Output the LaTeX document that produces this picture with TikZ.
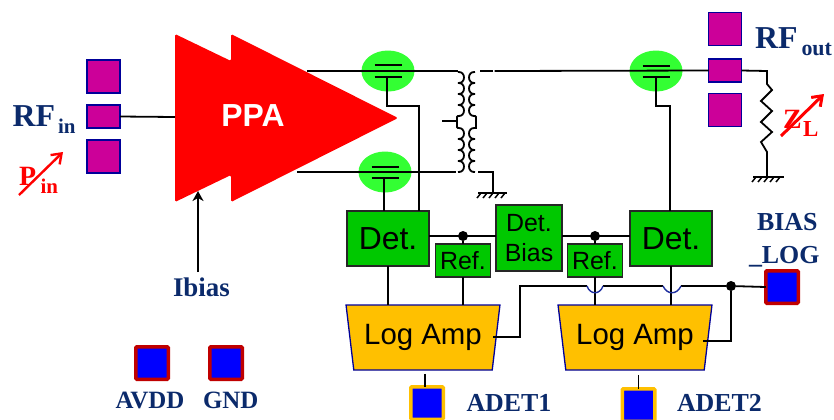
\documentclass[tikz,border=0pt]{standalone}
\usepackage{fontspec}
\setmainfont{Liberation Serif}
\setsansfont{Liberation Sans}
\usetikzlibrary{shapes.geometric,arrows.meta,calc}
\definecolor{navy}{HTML}{0B2A6B}
\definecolor{padm}{HTML}{CC0099}
\definecolor{padb}{HTML}{000099}
\definecolor{detg}{HTML}{00C800}
\definecolor{mosg}{HTML}{33FF33}
\definecolor{amber}{HTML}{FFC000}
\definecolor{dred}{HTML}{C00000}
\definecolor{hopb}{HTML}{1F2F9F}
\newcommand{\fs}[1]{\fontsize{#1}{#1}\selectfont}
\newcommand{\coilbumps}[1]{.. controls +(#1,-1) and +(#1,1) .. ++(0,11)
 .. controls +(#1,-1) and +(#1,1) .. ++(0,11)
 .. controls +(#1,-1) and +(#1,1) .. ++(0,11)
 .. controls +(#1,-1) and +(#1,1) .. ++(0,11)}
\tikzset{
  wire/.style={draw=black,line width=1.8bp,line join=miter},
  rfpad/.style={rectangle,draw=padb,fill=padm,line width=1.3bp,inner sep=0,outer sep=0},
  iopad/.style={rectangle,fill=blue,line width=3.5bp,inner sep=0,outer sep=0,rounded corners=1bp,minimum width=32.5bp,minimum height=32.5bp},
  box/.style={rectangle,draw=black!85,fill=detg,line width=1.5bp,inner sep=0,outer sep=0,align=center,font=\sffamily},
  amp/.style={trapezium,shape border rotate=180,trapezium left angle=76,trapezium right angle=76,trapezium stretches=true,draw=padb,fill=amber,line width=1.3bp,inner sep=0,outer sep=0,minimum width=154bp,minimum height=65bp,font=\sffamily\fs{29.5}},
  mos/.style={ellipse,fill=mosg,inner sep=0,outer sep=0,minimum width=53bp,minimum height=41bp},
  lbl/.style={inner sep=0,outer sep=0,anchor=base west,text=navy,font=\bfseries},
  redl/.style={inner sep=0,outer sep=0,anchor=base west,text=red,font=\bfseries},
  dot/.style={circle,fill=black,inner sep=0,outer sep=0,minimum size=10bp},
  redarrow/.style={draw=red,-{Straight Barb[length=9bp,width=13bp]}},
  gnd/.style={wire,line width=1.5bp},
}
\begin{document}
\begin{tikzpicture}[x=1bp,y=-1bp]
\useasboundingbox (0,0) rectangle (834,419);
\clip (0,0) rectangle (834,419);
% MOS ellipses
\node[mos] (m1) at (388,71) {};
\node[mos] (m2) at (385,172) {};
\node[mos] (m3) at (656,71) {};
% PPA
\fill[red,rounded corners=1.5bp] (175,34) -- (231,61) -- (231,34) -- (398,118) -- (231,202) -- (231,175) -- (175,202) -- cycle;
\node[inner sep=0,text=white,font=\sffamily\bfseries\fs{32}] (ppa) at (253,116) {PPA};
\coordinate (ppain) at (175,117);
\coordinate (ppabias) at (198,191);
\coordinate (ppatop) at (307,71);
\coordinate (ppabot) at (297,172);
% RF pads
\node[rfpad,minimum width=33bp,minimum height=33bp] (pi1) at (103.5,76.5) {};
\node[rfpad,minimum width=33bp,minimum height=23bp] (pi2) at (103.5,116.5) {};
\node[rfpad,minimum width=33bp,minimum height=33bp] (pi3) at (103.5,156.5) {};
\node[rfpad,minimum width=33bp,minimum height=33bp] (po1) at (725,29) {};
\node[rfpad,minimum width=33bp,minimum height=23bp] (po2) at (725,70.5) {};
\node[rfpad,minimum width=33bp,minimum height=33bp] (po3) at (725,110) {};
% Boxes
\node[box,minimum width=82bp,minimum height=55bp,font=\sffamily\fs{32}] (det1) at (388,238.5) {Det.};
\node[box,minimum width=82bp,minimum height=55bp,font=\sffamily\fs{32}] (det2) at (671,238.5) {Det.};
\node[box,minimum width=66bp,minimum height=66bp,font=\sffamily\fs{25}] (bias) at (529,238) {Det.\\[6bp]Bias};
\node[box,minimum width=55bp,minimum height=33bp,font=\sffamily\fs{25}] (ref1) at (463,260.5) {Ref.};
\node[box,minimum width=55bp,minimum height=33bp,font=\sffamily\fs{25}] (ref2) at (595,260.5) {Ref.};
\node[amp] (la1) at (423,337.5) {Log Amp};
\node[amp] (la2) at (635,337.5) {Log Amp};
% IO pads
\node[iopad,draw=dred] (avdd) at (152,363) {};
\node[iopad,draw=dred] (gnd) at (226,363) {};
\node[iopad,draw=dred] (blog) at (782,287) {};
\node[iopad,draw=amber] (ad1) at (427,403) {};
\node[iopad,draw=amber] (ad2) at (638.5,405) {};
% dots
\node[dot] (d1) at (463,236) {};
\node[dot] (d2) at (595,236) {};
\node[dot] (d3) at (731,286) {};
% input
\draw[wire] (pi2.east) -- (ppain);
\draw[wire,-{Stealth[length=10bp,width=11bp,inset=3bp]}] (198,272) -- (ppabias);
% main RF lines
\coordinate (t1L) at (458,71);
\coordinate (t1R) at (477,71);
\coordinate (t2L) at (456,172);
\coordinate (t2R) at (476,172);
\draw[wire] (ppatop) -- (t1L);
\draw[wire] (ppabot) -- (t2L);
\draw[wire] (t1R) ++(3,0) -- (492.5,71);
\draw[wire] (494.5,71) -- (po2.west);
% MOS plates and gates
\foreach \m/\x/\a/\b in {m1/388/65/77,m2/385/167/178,m3/656/66/77}{
  \draw[wire] (\x-13.5,\a) -- (\x+13.5,\a);
  \draw[wire] (\x-13.5,\b) -- (\x+13.5,\b);
}
\coordinate (g1) at (387,77);
\coordinate (g2) at (384,178);
\coordinate (g3) at (656,77);
\draw[wire] (g1) |- (419,106) -- (419,211);
\draw[wire] (g2) -- (384,211);
\draw[wire] (g3) |- (670,106) -- (670,211);
% transformer
\draw[wire] (458,72) \coilbumps{8} -- (457,117) -- (457,127) -- (458,128) \coilbumps{8};
\draw[wire] (475,72) \coilbumps{-8} -- (476,117) -- (476,128) -- (475,128) \coilbumps{-8};
\draw[wire] (442,121) -- (457,121);
\draw[wire] (478,172) -- (493,172) -- (493,193);
\coordinate (gt) at (493,193);
\draw[gnd] (478,193) -- (507,193);
\foreach \x in {481,487,493,499,505}{\draw[gnd] (\x,193) -- (\x-4,198);}
% load
\draw[wire] (po2.east) -- (767,71) -- (767,84) -- (772,90) -- (761,101) -- (772,111) -- (761,122) -- (772,132) -- (761,142) -- (767,152) -- (767,177);
\coordinate (gl) at (767,177);
\draw[gnd] (753,177) -- (784,177);
\foreach \x in {756,762,768,774,780}{\draw[gnd] (\x,177) -- (\x-4,182);}
% block wiring
\draw[wire] (det1.east |- d1) -- (bias.west |- d1);
\draw[wire] (bias.east |- d2) -- (det2.west |- d2);
\draw[wire] (d1) -- (ref1.north -| d1);
\draw[wire] (d2) -- (ref2.north -| d2);
\draw[wire] (det1.south) -- (det1.south |- la1.north);
\draw[wire] (ref1.south) -- (ref1.south |- la1.north);
\draw[wire] (ref2.south) -- (ref2.south |- la2.north);
\draw[wire] (det2.south) -- (det2.south |- la2.north);
% bias bus
\coordinate (o1) at (493,337);
\coordinate (o2) at (703,341);
\draw[wire] (o1) -- (520,337) -- (520,286) -- (587,286);
\draw[wire] (603,286) -- (663,286);
\draw[wire] (681,286) -- (d3) -- (blog.west);
\draw[hopb,line width=1.4bp] (587,286) .. controls (590,295) and (600,295) .. (603,286);
\draw[hopb,line width=1.4bp] (663,286) .. controls (667,295) and (677,295) .. (681,286);
\draw[wire] (o2) -- (731,341) -- (d3);
\draw[wire] (ad1.north -| 425,0) ++(0,-13) -- (ad1.north -| 425,0);
\draw[wire] (ad2.north) ++(0,-14) -- (ad2.north);
% labels
\node[lbl,font=\bfseries\fs{32}] (rfi) at (12.5,126) {RF};
\node[lbl,font=\bfseries\fs{21}] (rfis) at (58,133) {in};
\node[lbl,font=\bfseries\fs{32}] (rfo) at (755,48) {RF};
\node[lbl,font=\bfseries\fs{22}] (rfos) at (801.5,55) {out};
\node[redl,font=\bfseries\fs{28}] (pin) at (19,185) {P};
\node[redl,font=\bfseries\fs{21}] (pins) at (40.5,193) {in};
\draw[redarrow,line width=2.4bp] (19,195) -- (63,152);
\node[redl,font=\bfseries\fs{28}] (zl) at (783,128) {Z};
\node[redl,font=\bfseries\fs{23}] (zls) at (803,136) {L};
\draw[redarrow,line width=3bp] (781,136) -- (824,94);
\node[lbl,font=\bfseries\fs{27}] (ib) at (173,296) {Ibias};
\node[lbl,font=\bfseries\fs{25}] (lav) at (115.5,408) {AVDD};
\node[lbl,font=\bfseries\fs{25}] (lgn) at (203,408) {GND};
\node[lbl,font=\bfseries\fs{26}] (la) at (757,230) {BIAS};
\node[lbl,font=\bfseries\fs{26}] (lb) at (749,263) {\_LOG};
\node[lbl,font=\bfseries\fs{26}] (lc) at (466.5,411) {ADET1};
\node[lbl,font=\bfseries\fs{26}] (ld) at (677,411) {ADET2};
\end{tikzpicture}
\end{document}
